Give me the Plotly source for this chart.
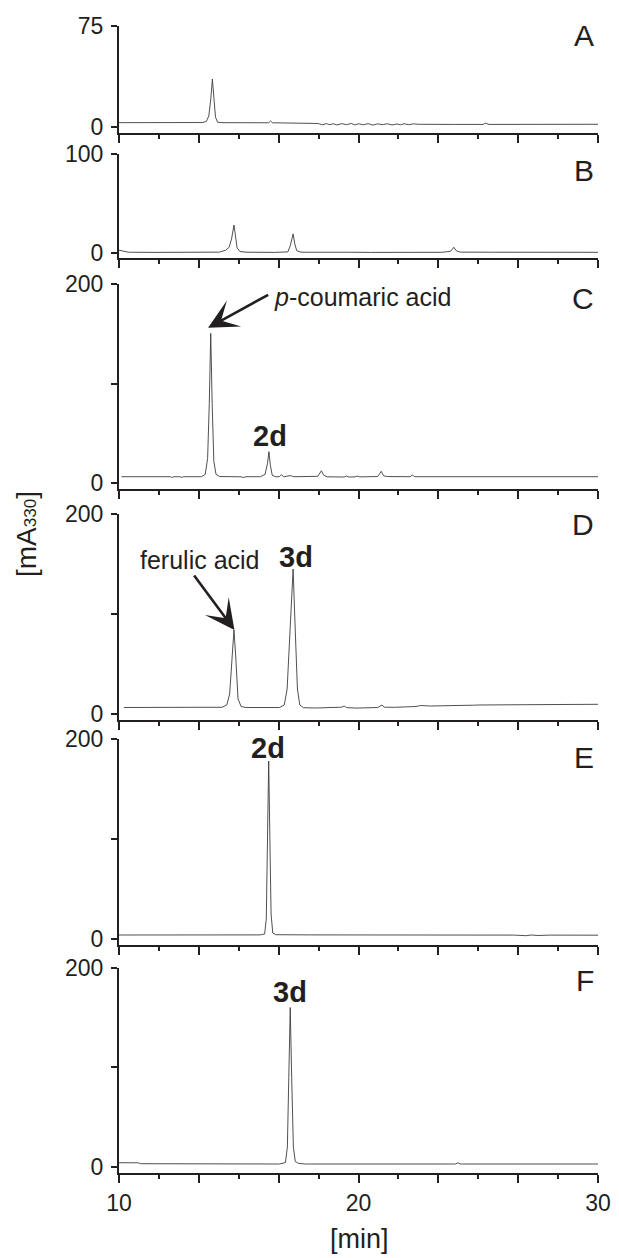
import plotly.graph_objects as go

# ---------------- data (time [min], absorbance [mA330]) ----------------
panel_labels = ["A", "B", "C", "D", "E", "F"]

trace_a = [(10.0, 3.0), (13.5, 3.1), (13.65, 4.0), (13.75, 8.0), (13.83, 20.0), (13.9, 35.4),
           (13.96, 22.0), (14.03, 7.0), (14.12, 3.3), (14.3, 3.0), (16.25, 2.9), (16.33, 4.3),
           (16.41, 2.9), (17.5, 2.6), (18.3, 2.4), (18.5, 1.4), (18.65, 2.3), (18.8, 1.5),
           (18.95, 2.2), (19.1, 1.3), (19.3, 2.3), (19.5, 1.5), (19.7, 2.4), (19.85, 1.3),
           (20.0, 2.2), (20.2, 1.4), (20.4, 2.3), (20.6, 1.2), (20.8, 2.1), (21.0, 1.5),
           (21.2, 2.2), (21.4, 1.3), (21.6, 2.0), (21.75, 1.4), (21.9, 2.2), (22.1, 1.5),
           (22.3, 2.1), (22.5, 1.8), (23.0, 1.9), (23.5, 1.8), (24.0, 1.7), (25.2, 1.7),
           (25.3, 2.6), (25.45, 1.7), (26.0, 1.7), (28.0, 1.7), (30.0, 1.8)]

trace_b = [(10.0, 2.5), (10.15, 1.5), (10.4, 0.5), (11.5, 0.3), (12.5, 0.4), (13.5, 0.2),
           (14.2, 0.6), (14.45, 2.5), (14.6, 5.5), (14.7, 14.0), (14.8, 28.0), (14.87, 16.0),
           (14.93, 5.0), (15.05, 1.2), (15.3, 0.5), (16.5, 0.3), (17.05, 0.8), (17.15, 7.0),
           (17.27, 19.0), (17.34, 9.0), (17.42, 2.0), (17.6, 0.5), (18.5, 0.8), (19.5, 0.5),
           (20.5, 0.3), (21.5, 0.4), (22.5, 0.2), (23.5, 0.4), (23.85, 1.5), (23.98, 5.5),
           (24.08, 2.0), (24.25, 0.6), (25.5, 0.5), (27.0, 0.4), (28.5, 0.5), (30.0, 0.4)]

trace_c = [(10.1, 6.6), (12.15, 6.6), (12.2, 5.8), (12.3, 6.6), (12.55, 6.6), (12.6, 5.9),
           (12.7, 6.6), (13.45, 6.6), (13.6, 9.0), (13.7, 25.0), (13.77, 80.0), (13.83, 150.5),
           (13.89, 80.0), (13.96, 22.0), (14.05, 9.0), (14.2, 6.8), (15.1, 6.5), (15.2, 5.8),
           (15.3, 6.6), (15.9, 6.6), (16.1, 9.0), (16.2, 20.0), (16.26, 31.7), (16.32, 18.0),
           (16.4, 8.0), (16.55, 6.5), (16.7, 6.8), (16.78, 8.5), (16.88, 6.5), (17.05, 7.5),
           (17.15, 7.8), (17.3, 6.6), (17.9, 6.4), (18.3, 7.0), (18.45, 12.5), (18.55, 8.0),
           (18.7, 6.5), (19.4, 6.3), (19.5, 7.2), (19.6, 6.3), (19.85, 6.4), (19.95, 7.2),
           (20.05, 6.4), (20.8, 6.8), (20.95, 12.0), (21.05, 7.5), (21.2, 6.8), (22.15, 6.6),
           (22.25, 8.3), (22.35, 6.6), (30.0, 6.6)]

trace_d = [(10.2, 6.5), (11.0, 6.7), (13.0, 6.7), (14.3, 6.7), (14.5, 9.0), (14.62, 20.0),
           (14.72, 60.0), (14.8, 84.0), (14.88, 55.0), (14.97, 15.0), (15.1, 7.5), (15.3, 6.5),
           (16.7, 6.5), (16.9, 9.0), (17.02, 25.0), (17.15, 90.0), (17.27, 145.0), (17.35, 90.0),
           (17.45, 25.0), (17.55, 9.0), (17.7, 6.3), (18.2, 6.0), (18.5, 6.3), (18.7, 5.8),
           (19.0, 6.2), (19.3, 6.8), (19.4, 8.0), (19.5, 6.4), (19.9, 5.9), (20.3, 6.1),
           (20.8, 6.5), (20.98, 9.0), (21.08, 6.8), (21.5, 6.7), (22.4, 7.5), (22.6, 8.5),
           (23.0, 8.0), (24.8, 8.8), (25.0, 9.0), (27.0, 9.3), (30.0, 9.7)]

trace_e = [(10.0, 4.0), (12.0, 4.0), (14.0, 4.1), (15.9, 4.1), (16.08, 5.0), (16.15, 20.0),
           (16.2, 100.0), (16.25, 178.0), (16.3, 100.0), (16.35, 25.0), (16.42, 6.0),
           (16.55, 4.3), (18.0, 4.1), (20.0, 4.2), (24.0, 4.0), (26.5, 3.9), (27.0, 3.3),
           (27.2, 4.0), (27.5, 3.5), (28.0, 3.9), (30.0, 3.8)]

trace_f = [(10.0, 4.3), (10.8, 4.2), (10.9, 3.3), (11.5, 3.2), (11.6, 3.7), (11.7, 3.2),
           (13.0, 3.0), (16.7, 3.0), (16.95, 4.5), (17.03, 20.0), (17.09, 90.0), (17.15, 160.0),
           (17.21, 90.0), (17.28, 20.0), (17.36, 5.5), (17.5, 3.6), (17.8, 3.0), (24.05, 3.0),
           (24.15, 4.2), (24.25, 3.0), (30.0, 3.0)]

y_tops = [75, 100, 200, 200, 200, 200]
x_ticklabels = ["10", "20", "30"]

# ---------------- layout geometry (page pixels) ----------------
PAGE_W, PAGE_H = 619, 1258
OFF = 8  # default body margin of the html page
W, H = PAGE_W - OFF, PAGE_H - OFF
L, R, T, B = 119, 598, 25, 1173          # plot area in page pixels
panel_px = [(25.7, 132.7), (154, 258.3), (284, 489.3), (514, 720), (739, 945), (967.7, 1173)]
zero_px = [126.7, 252.7, 483.3, 714, 939, 1167]

FONT = "Liberation Sans, Arial, Helvetica, sans-serif"
INK = "#231f20"


def px(x):
    return (x - L) / (R - L)


def py(y):
    return (B - y) / (B - T)


traces = [trace_a, trace_b, trace_c, trace_d, trace_e, trace_f]
fig = go.Figure()
layout = {}
major = [10 + k * 10 / 3 for k in range(7)]
major_text = ["" for _ in major]
major_text[0], major_text[3], major_text[6] = x_ticklabels

for i, (tr, top) in enumerate(zip(traces, y_tops)):
    n = i + 1
    xs = [p[0] for p in tr]
    ys = [p[1] for p in tr]
    fig.add_trace(go.Scatter(x=xs, y=ys, mode="lines", xaxis=f"x{n}", yaxis=f"y{n}",
                             line=dict(color="#3c3c3c", width=0.9), showlegend=False,
                             hoverinfo="skip"))
    top_px, bot_px = panel_px[i]
    zpx = zero_px[i]
    scale = (zpx - top_px) / top  # px per unit
    ymin = -(bot_px - zpx) / scale
    if top == 200:
        yt, ytt = [0, 100, 200], ["0", "", "200"]
    else:
        yt, ytt = [0, top], ["0", str(top)]
    layout[f"xaxis{n}"] = dict(
        domain=[0, 1], range=[10, 30], anchor=f"y{n}", showline=True, linewidth=2.2,
        linecolor=INK, ticks="outside", tickmode="array", tickvals=major, ticktext=major_text,
        ticklen=8, tickwidth=1.6, tickcolor=INK, showticklabels=(n == 6),
        tickfont=dict(family=FONT, size=23, color=INK), ticklabelstandoff=0,
        minor=dict(ticks="outside", tickmode="array",
                   tickvals=[10 + (2 * k + 1) * 10 / 6 for k in range(6)],
                   ticklen=4, tickwidth=1.6, tickcolor=INK),
        showgrid=False, zeroline=False, fixedrange=True)
    layout[f"yaxis{n}"] = dict(
        domain=[py(bot_px), py(top_px)], range=[ymin, top], anchor=f"x{n}", showline=True,
        linewidth=2.2, linecolor=INK, ticks="outside", tickmode="array", tickvals=yt,
        ticktext=ytt, ticklen=6, tickwidth=1.6, tickcolor=INK,
        tickfont=dict(family=FONT, size=23, color=INK), ticklabelstandoff=3,
        showgrid=False, zeroline=False, fixedrange=True)

annotations = []
# panel letters
letter_y = [35, 170, 298, 524, 757.5, 980]
for lab, ypx in zip(panel_labels, letter_y):
    annotations.append(dict(text=lab, xref="paper", yref="paper", x=px(596), y=py(ypx),
                            xanchor="right", yanchor="middle", showarrow=False,
                            font=dict(family=FONT, size=30, color=INK)))

BOLD = dict(family=FONT, size=29, color=INK)
NOTE = dict(family=FONT, size=25, color=INK)
# peak labels (data coordinates)
annotations += [
    dict(text="<i>p</i>-coumaric acid", xref="x3", yref="y3", x=16.37, y=187, xanchor="left",
         yanchor="middle", showarrow=False, font=NOTE),
    dict(text="", xref="x3", yref="y3", x=13.72, y=156, axref="x3", ayref="y3", ax=16.29, ay=190,
         showarrow=True, arrowhead=3, arrowsize=1.9, arrowwidth=2.6, arrowcolor=INK, standoff=0),
    dict(text="<b>2d</b>", xref="x3", yref="y3", x=16.3, y=47, xanchor="center", yanchor="middle",
         showarrow=False, font=BOLD),
    dict(text="ferulic acid", xref="x4", yref="y4", x=13.4, y=154, xanchor="center",
         yanchor="middle", showarrow=False, font=NOTE),
    dict(text="", xref="x4", yref="y4", x=14.82, y=84, axref="x4", ayref="y4", ax=13.09, ay=140,
         showarrow=True, arrowhead=3, arrowsize=1.9, arrowwidth=2.6, arrowcolor=INK, standoff=0),
    dict(text="<b>3d</b>", xref="x4", yref="y4", x=17.38, y=157, xanchor="center",
         yanchor="middle", showarrow=False, font=BOLD),
    dict(text="<b>2d</b>", xref="x5", yref="y5", x=16.24, y=191, xanchor="center",
         yanchor="middle", showarrow=False, font=BOLD),
    dict(text="<b>3d</b>", xref="x6", yref="y6", x=17.14, y=176, xanchor="center",
         yanchor="middle", showarrow=False, font=BOLD),
]

# axis titles
annotations += [
    dict(text="[mA<span style='font-size:17px'>330</span>]", xref="paper", yref="paper",
         x=px(26), y=py(534), xanchor="center", yanchor="middle", textangle=-90,
         showarrow=False, font=dict(family=FONT, size=28, color=INK)),
    dict(text="[min]", xref="paper", yref="paper", x=px(359), y=py(1239), xanchor="center",
         yanchor="middle", showarrow=False, font=dict(family=FONT, size=27, color=INK)),
]

fig.update_layout(
    width=W, height=H,
    margin=dict(l=L - OFF, r=PAGE_W - R, t=T - OFF, b=PAGE_H - B, autoexpand=False),
    paper_bgcolor="white", plot_bgcolor="white", annotations=annotations,
    font=dict(family=FONT, color=INK), showlegend=False, **layout)

fig.write_html("out.html", config={"displayModeBar": False})
